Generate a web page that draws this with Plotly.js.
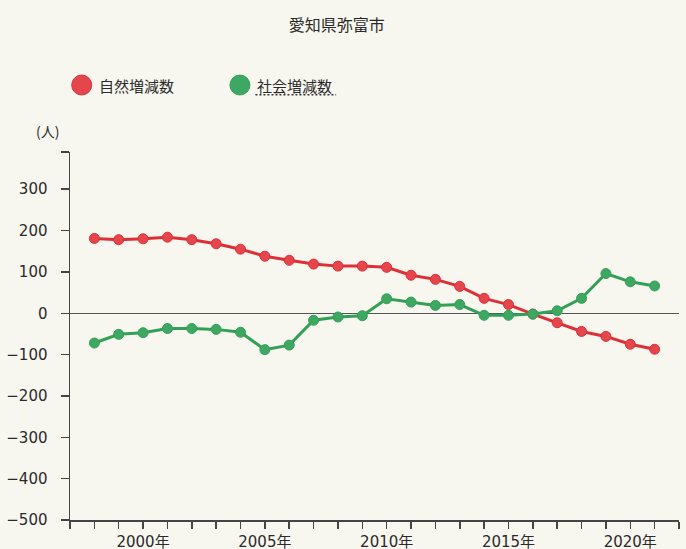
<!DOCTYPE html>
<html>
<head>
<meta charset="utf-8">
<script src="https://cdn.plot.ly/plotly-3.0.1.min.js"></script>
<style>
html,body{margin:0;padding:0;background:#f8f7ef;}
#chart{width:686px;height:549px;}
</style>
</head>
<body>
<div id="chart"></div>
<script>
const years = [1998,1999,2000,2001,2002,2003,2004,2005,2006,2007,2008,2009,2010,2011,2012,2013,2014,2015,2016,2017,2018,2019,2020,2021];
const natural = [181,178,180,184,178,168,155,138,128,119,114,114,111,92,82,65,36,21,-2,-23,-44,-56,-75,-87];
const social = [-72,-51,-47,-37,-37,-39,-46,-88,-77,-17,-9,-6,35,27,19,21,-5,-5,-2,6,36,96,76,66];
const seriesNames = ["自然増減数","社会増減数"];
const chartTitle = "愛知県弥富市";
const unitLabel = "(人)";
const xTickYears = [1997,1998,1999,2000,2001,2002,2003,2004,2005,2006,2007,2008,2009,2010,2011,2012,2013,2014,2015,2016,2017,2018,2019,2020,2021,2022];
const xLabelYears = [2000,2005,2010,2015,2020];
const yTickVals = [-500,-400,-300,-200,-100,0,100,200,300,390];
const yLabelVals = [-500,-400,-300,-200,-100,0,100,200,300];

const redLine = '#dd2f37', redMarker = '#e4464c';
const greenLine = '#33a057', greenMarker = '#3ea862';
const textColor = '#2a2a2a';
const axisColor = '#444444';
const tickFont = {family: 'DejaVu Sans, Noto Sans CJK JP, sans-serif', size: 15, color: textColor};
const jpFont = {family: 'Noto Sans CJK JP, sans-serif', size: 15, color: textColor};

const traces = [
  {x: years, y: natural, name: seriesNames[0], type: 'scatter', mode: 'lines+markers',
   line: {color: redLine, width: 3}, marker: {color: redMarker, size: 10, line: {color: redLine, width: 1}}},
  {x: years, y: social, name: seriesNames[1], type: 'scatter', mode: 'lines+markers',
   line: {color: greenLine, width: 3}, marker: {color: greenMarker, size: 10, line: {color: greenLine, width: 1}}}
];

const fmt = v => String(v).replace('-', '\u2212');

const layout = {
  width: 686, height: 549,
  paper_bgcolor: '#f8f7ef', plot_bgcolor: '#f8f7ef',
  margin: {l: 70, r: 7, t: 152, b: 29},
  showlegend: false,
  title: {text: chartTitle, x: 0.491, xref: 'container', xanchor: 'center', y: 0.953, yref: 'container', yanchor: 'middle',
          font: {family: 'Noto Sans CJK JP, sans-serif', size: 16, color: textColor}},
  xaxis: {range: [1997, 2022], showgrid: false, zeroline: false, showline: true, linecolor: axisColor, linewidth: 1.5,
          ticks: 'outside', ticklen: 7, tickwidth: 1.5, tickcolor: axisColor,
          tickmode: 'array', tickvals: xTickYears,
          ticktext: xTickYears.map(y => xLabelYears.includes(y) ? y + '年' : ''),
          tickfont: tickFont, fixedrange: true},
  yaxis: {range: [-500, 390], showgrid: false, zeroline: true, zerolinecolor: '#555555', zerolinewidth: 1.2,
          showline: true, linecolor: axisColor, linewidth: 1.5,
          ticks: 'outside', ticklen: 8, tickwidth: 1.5, tickcolor: axisColor,
          tickmode: 'array', tickvals: yTickVals,
          ticktext: yTickVals.map(v => yLabelVals.includes(v) ? fmt(v) : ''),
          ticklabelstandoff: 10,
          tickfont: tickFont, fixedrange: true},
  annotations: [
    {text: unitLabel, xref: 'paper', yref: 'paper', x: 0, y: 1, xanchor: 'right', yanchor: 'bottom',
     xshift: -9, yshift: 9, showarrow: false, font: {family: 'Noto Sans CJK JP, sans-serif', size: 14, color: textColor}},
    {text: seriesNames[0], xref: 'paper', yref: 'paper', x: 0.0438, y: 1.182, xanchor: 'left', yanchor: 'middle',
     showarrow: false, font: jpFont},
    {text: seriesNames[1], xref: 'paper', yref: 'paper', x: 0.3038, y: 1.182, xanchor: 'left', yanchor: 'middle',
     showarrow: false, font: jpFont}
  ],
  shapes: [
    {type: 'circle', xref: 'paper', yref: 'paper', xsizemode: 'pixel', ysizemode: 'pixel',
     xanchor: 0.0192, yanchor: 1.182, x0: -10, x1: 10, y0: -10, y1: 10,
     fillcolor: redMarker, line: {color: redLine, width: 1}},
    {type: 'circle', xref: 'paper', yref: 'paper', xsizemode: 'pixel', ysizemode: 'pixel',
     xanchor: 0.279, yanchor: 1.182, x0: -10, x1: 10, y0: -10, y1: 10,
     fillcolor: greenMarker, line: {color: greenLine, width: 1}},
    {type: 'line', xref: 'paper', yref: 'paper', x0: 0.3045, x1: 0.437, y0: 1.1556, y1: 1.1556,
     line: {color: '#333333', width: 1.5, dash: '2px,2px'}}
  ]
};

Plotly.newPlot('chart', traces, layout, {displayModeBar: false, staticPlot: true});
</script>
</body>
</html>
